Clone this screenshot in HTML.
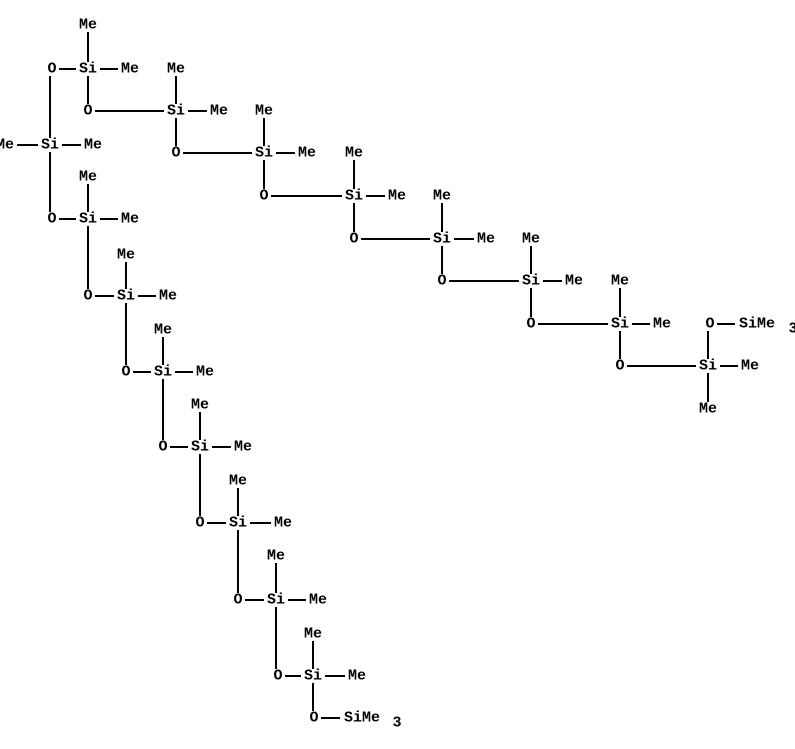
<!DOCTYPE html>
<html><head><meta charset="utf-8"><style>
html,body{margin:0;padding:0;background:#fff;}
svg{display:block}
text{font-family:"Liberation Mono",monospace;font-size:15px;font-weight:bold;fill:#000;text-anchor:middle;dominant-baseline:central}
line{stroke:#000;stroke-width:2}
rect{fill:#fff}
</style></head><body>
<svg width="795" height="749" viewBox="0 0 795 749" xmlns="http://www.w3.org/2000/svg">
<g>
<line x1="52" y1="69" x2="88" y2="69"/><line x1="88" y1="25" x2="88" y2="69"/><line x1="88" y1="69" x2="130" y2="69"/><line x1="88" y1="69" x2="88" y2="111"/>
<line x1="88" y1="111" x2="176" y2="111"/><line x1="176" y1="69" x2="176" y2="153"/><line x1="176" y1="111" x2="219" y2="111"/>
<line x1="176" y1="153" x2="264" y2="153"/><line x1="264" y1="111" x2="264" y2="196"/><line x1="264" y1="153" x2="307" y2="153"/>
<line x1="264" y1="196" x2="354" y2="196"/><line x1="354" y1="153" x2="354" y2="239"/><line x1="354" y1="196" x2="397" y2="196"/>
<line x1="354" y1="239" x2="442" y2="239"/><line x1="442" y1="196" x2="442" y2="281"/><line x1="442" y1="239" x2="486" y2="239"/>
<line x1="442" y1="281" x2="531" y2="281"/><line x1="531" y1="239" x2="531" y2="324"/><line x1="531" y1="281" x2="574" y2="281"/>
<line x1="531" y1="324" x2="620" y2="324"/><line x1="620" y1="281" x2="620" y2="366"/><line x1="620" y1="324" x2="662" y2="324"/>
<line x1="620" y1="366" x2="708" y2="366"/><line x1="708" y1="324" x2="708" y2="409"/><line x1="708" y1="366" x2="750" y2="366"/>
<line x1="710" y1="324" x2="757" y2="324"/>
<line x1="50" y1="69" x2="50" y2="219"/><line x1="5" y1="145" x2="93" y2="145"/>
<line x1="52" y1="219" x2="88" y2="219"/><line x1="88" y1="177" x2="88" y2="296"/><line x1="88" y1="219" x2="130" y2="219"/>
<line x1="88" y1="296" x2="126" y2="296"/><line x1="126" y1="255" x2="126" y2="372"/><line x1="126" y1="296" x2="168" y2="296"/>
<line x1="126" y1="372" x2="163" y2="372"/><line x1="163" y1="330" x2="163" y2="447"/><line x1="163" y1="372" x2="205" y2="372"/>
<line x1="163" y1="447" x2="200" y2="447"/><line x1="200" y1="405" x2="200" y2="523"/><line x1="200" y1="447" x2="243" y2="447"/>
<line x1="200" y1="523" x2="238" y2="523"/><line x1="238" y1="481" x2="238" y2="600"/><line x1="238" y1="523" x2="283" y2="523"/>
<line x1="238" y1="600" x2="276" y2="600"/><line x1="276" y1="556" x2="276" y2="676"/><line x1="276" y1="600" x2="318" y2="600"/>
<line x1="278" y1="676" x2="313" y2="676"/><line x1="313" y1="634" x2="313" y2="718"/><line x1="313" y1="676" x2="357" y2="676"/>
<line x1="314" y1="718" x2="362" y2="718"/>
</g>
<g>
<rect x="45" y="62" width="14" height="14"/><text x="52" y="69">O</text>
<rect x="81" y="104" width="14" height="14"/><text x="88" y="111">O</text>
<rect x="169" y="146" width="14" height="14"/><text x="176" y="153">O</text>
<rect x="257" y="189" width="14" height="14"/><text x="264" y="196">O</text>
<rect x="347" y="232" width="14" height="14"/><text x="354" y="239">O</text>
<rect x="435" y="274" width="14" height="14"/><text x="442" y="281">O</text>
<rect x="524" y="317" width="14" height="14"/><text x="531" y="324">O</text>
<rect x="613" y="359" width="14" height="14"/><text x="620" y="366">O</text>
<rect x="703" y="317" width="14" height="14"/><text x="710" y="324">O</text>
<rect x="45" y="212" width="14" height="14"/><text x="52" y="219">O</text>
<rect x="81" y="289" width="14" height="14"/><text x="88" y="296">O</text>
<rect x="119" y="365" width="14" height="14"/><text x="126" y="372">O</text>
<rect x="156" y="440" width="14" height="14"/><text x="163" y="447">O</text>
<rect x="193" y="516" width="14" height="14"/><text x="200" y="523">O</text>
<rect x="231" y="593" width="14" height="14"/><text x="238" y="600">O</text>
<rect x="271" y="669" width="14" height="14"/><text x="278" y="676">O</text>
<rect x="307" y="711" width="14" height="14"/><text x="314" y="718">O</text>
<rect x="76" y="62" width="24" height="14"/><text x="88" y="69">Si</text>
<rect x="164" y="104" width="24" height="14"/><text x="176" y="111">Si</text>
<rect x="252" y="146" width="24" height="14"/><text x="264" y="153">Si</text>
<rect x="342" y="189" width="24" height="14"/><text x="354" y="196">Si</text>
<rect x="430" y="232" width="24" height="14"/><text x="442" y="239">Si</text>
<rect x="519" y="274" width="24" height="14"/><text x="531" y="281">Si</text>
<rect x="608" y="317" width="24" height="14"/><text x="620" y="324">Si</text>
<rect x="696" y="359" width="24" height="14"/><text x="708" y="366">Si</text>
<rect x="38" y="138" width="24" height="14"/><text x="50" y="145">Si</text>
<rect x="76" y="212" width="24" height="14"/><text x="88" y="219">Si</text>
<rect x="114" y="289" width="24" height="14"/><text x="126" y="296">Si</text>
<rect x="151" y="365" width="24" height="14"/><text x="163" y="372">Si</text>
<rect x="188" y="440" width="24" height="14"/><text x="200" y="447">Si</text>
<rect x="226" y="516" width="24" height="14"/><text x="238" y="523">Si</text>
<rect x="264" y="593" width="24" height="14"/><text x="276" y="600">Si</text>
<rect x="301" y="669" width="24" height="14"/><text x="313" y="676">Si</text>
<rect x="735" y="317" width="44" height="14"/><text x="757" y="324">SiMe</text><text x="793" y="329">3</text>
<rect x="340" y="711" width="44" height="14"/><text x="362" y="718">SiMe</text><text x="397" y="723">3</text>
<rect x="76" y="18" width="24" height="14"/><text x="88" y="25">Me</text>
<rect x="118" y="62" width="24" height="14"/><text x="130" y="69">Me</text>
<rect x="164" y="62" width="24" height="14"/><text x="176" y="69">Me</text>
<rect x="207" y="104" width="24" height="14"/><text x="219" y="111">Me</text>
<rect x="252" y="104" width="24" height="14"/><text x="264" y="111">Me</text>
<rect x="295" y="146" width="24" height="14"/><text x="307" y="153">Me</text>
<rect x="342" y="146" width="24" height="14"/><text x="354" y="153">Me</text>
<rect x="385" y="189" width="24" height="14"/><text x="397" y="196">Me</text>
<rect x="430" y="189" width="24" height="14"/><text x="442" y="196">Me</text>
<rect x="474" y="232" width="24" height="14"/><text x="486" y="239">Me</text>
<rect x="519" y="232" width="24" height="14"/><text x="531" y="239">Me</text>
<rect x="562" y="274" width="24" height="14"/><text x="574" y="281">Me</text>
<rect x="608" y="274" width="24" height="14"/><text x="620" y="281">Me</text>
<rect x="650" y="317" width="24" height="14"/><text x="662" y="324">Me</text>
<rect x="738" y="359" width="24" height="14"/><text x="750" y="366">Me</text>
<rect x="696" y="402" width="24" height="14"/><text x="708" y="409">Me</text>
<rect x="-7" y="138" width="24" height="14"/><text x="5" y="145">Me</text>
<rect x="81" y="138" width="24" height="14"/><text x="93" y="145">Me</text>
<rect x="76" y="170" width="24" height="14"/><text x="88" y="177">Me</text>
<rect x="118" y="212" width="24" height="14"/><text x="130" y="219">Me</text>
<rect x="114" y="248" width="24" height="14"/><text x="126" y="255">Me</text>
<rect x="156" y="289" width="24" height="14"/><text x="168" y="296">Me</text>
<rect x="151" y="323" width="24" height="14"/><text x="163" y="330">Me</text>
<rect x="193" y="365" width="24" height="14"/><text x="205" y="372">Me</text>
<rect x="188" y="398" width="24" height="14"/><text x="200" y="405">Me</text>
<rect x="231" y="440" width="24" height="14"/><text x="243" y="447">Me</text>
<rect x="226" y="474" width="24" height="14"/><text x="238" y="481">Me</text>
<rect x="271" y="516" width="24" height="14"/><text x="283" y="523">Me</text>
<rect x="264" y="549" width="24" height="14"/><text x="276" y="556">Me</text>
<rect x="306" y="593" width="24" height="14"/><text x="318" y="600">Me</text>
<rect x="301" y="627" width="24" height="14"/><text x="313" y="634">Me</text>
<rect x="345" y="669" width="24" height="14"/><text x="357" y="676">Me</text>
</g>
</svg>
</body></html>
